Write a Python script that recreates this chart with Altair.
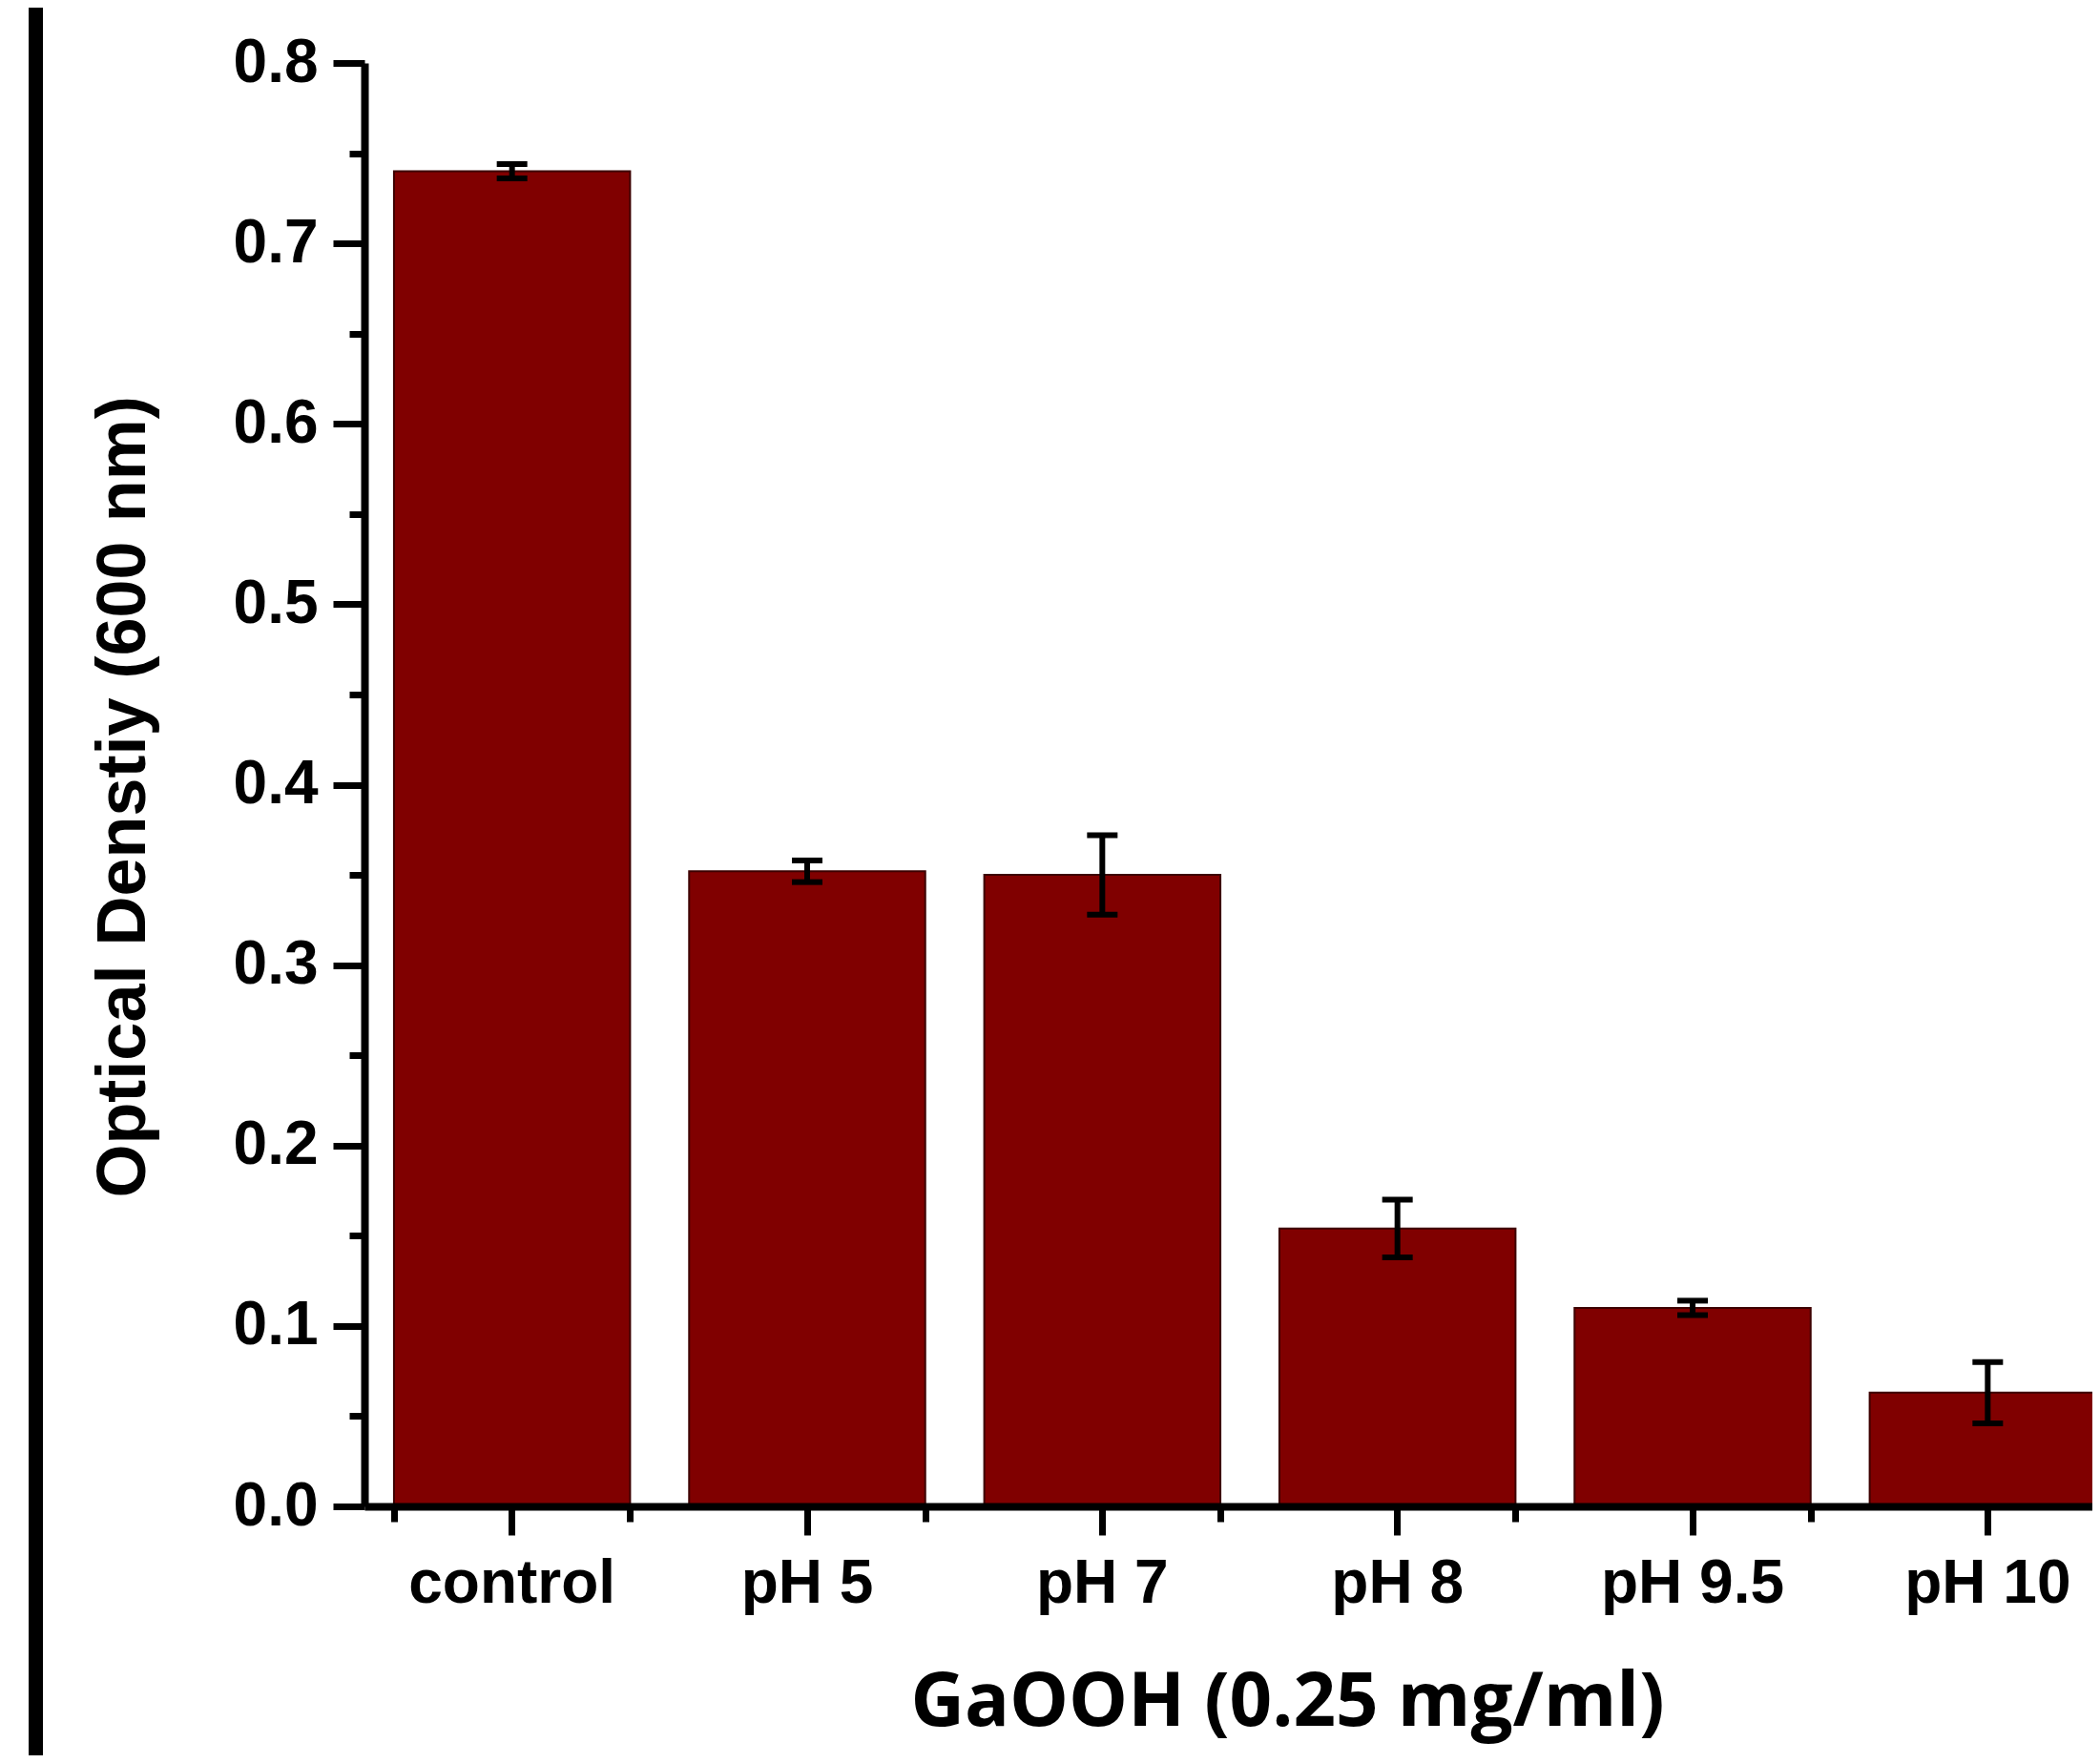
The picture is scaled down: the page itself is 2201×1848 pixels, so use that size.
import altair as alt
import pandas as pd

categories = ["control", "pH 5", "pH 7", "pH 8", "pH 9.5", "pH 10"]
values = [0.740, 0.352, 0.350, 0.154, 0.110, 0.063]
errors = [0.004, 0.006, 0.022, 0.016, 0.004, 0.017]
y_major = [0.0, 0.1, 0.2, 0.3, 0.4, 0.5, 0.6, 0.7, 0.8]
y_minor = [0.05, 0.15, 0.25, 0.35, 0.45, 0.55, 0.65, 0.75]

df = pd.DataFrame({
    "cat": categories,
    "val": values,
    "lo": [v - e for v, e in zip(values, errors)],
    "hi": [v + e for v, e in zip(values, errors)],
})

xscale = alt.Scale(domain=categories, range=[0, 1856], paddingInner=0.2, paddingOuter=0.1)
yscale = alt.Scale(domain=[0, 0.8], nice=False, zero=True)

x_major_axis = alt.Axis(
    title="GaOOH (0.25 mg/ml)", labelAngle=0, tickSize=30, labelPadding=19,
    labelLimit=0,
    titleFont="Open Sans", titleFontWeight="bold", titleFontSize=78,
    titleX=967, titleY=229, titleAlign="center", titleBaseline="alphabetic",
    zindex=1, orient="bottom",
)
y_major_axis = alt.Axis(
    title="Optical Denstiy (600 nm)", values=y_major, format=".1f", tickSize=33,
    labelPadding=16, grid=False, labelLimit=0,
    titleFont="Liberation Sans", titleFontWeight="bold", titleFontSize=72,
    titleAngle=270, titleX=-231, titleY=769, titleAlign="center",
    titleBaseline="alphabetic", zindex=1, orient="left",
)
x_minor_axis = alt.Axis(title=None, labels=False, domain=False, tickBand="extent",
                        tickSize=16, zindex=1, orient="bottom")
y_minor_axis = alt.Axis(title=None, labels=False, domain=False, values=y_minor,
                        tickSize=16, grid=False, zindex=1, orient="left")

base = alt.Chart(df)

bars = base.mark_bar(color="#800000", stroke="#3d0000", strokeWidth=2).encode(
    x=alt.X("cat:N", scale=xscale, axis=x_major_axis, sort=categories),
    y=alt.Y("val:Q", scale=yscale, axis=y_major_axis),
)

err_rule = base.mark_rule(color="black", strokeWidth=6).encode(
    x=alt.X("cat:N", scale=xscale, axis=x_minor_axis, sort=categories),
    y=alt.Y("lo:Q", scale=yscale, axis=y_minor_axis),
    y2="hi:Q",
)
cap_lo = base.mark_tick(color="black", size=32, thickness=6, opacity=1).encode(
    x=alt.X("cat:N", scale=xscale, axis=None, sort=categories),
    y=alt.Y("lo:Q", scale=yscale, axis=None),
)
cap_hi = base.mark_tick(color="black", size=32, thickness=6, opacity=1).encode(
    x=alt.X("cat:N", scale=xscale, axis=None, sort=categories),
    y=alt.Y("hi:Q", scale=yscale, axis=None),
)

border = alt.Chart(pd.DataFrame({"k": [0]})).mark_rule(color="black", strokeWidth=15).encode(
    x=alt.value(-344.5), y=alt.value(-80), y2=alt.value(1800)
)

chart = alt.layer(bars, err_rule, cap_lo, cap_hi, border).resolve_axis(
    x="independent", y="independent"
).resolve_scale(x="shared", y="shared").properties(
    width=1811, height=1513,
    autosize=alt.AutoSizeParams(type="none"),
    padding={"left": 374, "top": 58, "right": 0, "bottom": 261},
    background="white",
).configure_view(stroke=None).configure_axis(
    labelFont="Liberation Sans", labelFontWeight="bold", labelFontSize=64,
    labelColor="black", domainColor="black", domainWidth=8,
    tickColor="black", tickWidth=7, titleColor="black",
)

chart.save("out.html", embed_options={"renderer": "svg", "actions": False})
